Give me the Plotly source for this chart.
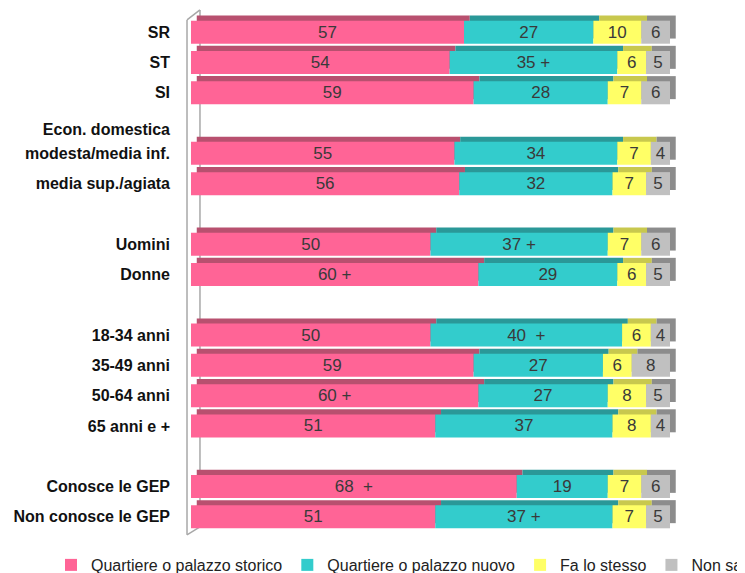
import plotly.graph_objects as go

# Righe dall'alto in basso (None = riga vuota tra i gruppi)
rows = ["SR", "ST", "SI", None, "modesta/media inf.", "media sup./agiata", None,
        "Uomini", "Donne", None, "18-34 anni", "35-49 anni", "50-64 anni",
        "65 anni e +", None, "Conosce le GEP", "Non conosce le GEP"]

series_names = ["Quartiere o palazzo storico", "Quartiere o palazzo nuovo",
                "Fa lo stesso", "Non sa"]

storico = [57, 54, 59, 55, 56, 50, 60, 50, 59, 60, 51, 68, 51]
nuovo = [27, 35, 28, 34, 32, 37, 29, 40, 27, 27, 37, 19, 37]
stesso = [10, 6, 7, 7, 7, 7, 6, 6, 6, 8, 8, 7, 7]
non_sa = [6, 5, 6, 4, 5, 6, 5, 4, 8, 5, 4, 6, 5]

storico_txt = ["57", "54", "59", "55", "56", "50", "60 +", "50", "59", "60 +", "51", "68  +", "51"]
nuovo_txt = ["27", "35 +", "28", "34", "32", "37 +", "29", "40  +", "27", "27", "37", "19", "37 +"]
stesso_txt = [str(v) for v in stesso]
non_sa_txt = [str(v) for v in non_sa]

front_colors = ["#FF6496", "#33CCCC", "#FFFF66", "#C0C0C0"]
top_colors = ["#B8506F", "#2A9898", "#C8C84E", "#8C8C8C"]

FONT = "Liberation Sans, Arial, sans-serif"

y_pos = [i for i, r in enumerate(rows) if r is not None]
labels = [r for r in rows if r is not None]

values = [storico, nuovo, stesso, non_sa]
texts = [storico_txt, nuovo_txt, stesso_txt, non_sa_txt]

# basi cumulative
bases = []
cum = [0] * len(storico)
for vals in values:
    bases.append(list(cum))
    cum = [c + v for c, v in zip(cum, vals)]

fig = go.Figure()

# finto effetto 3D: barre scure leggermente spostate dietro
dx = 1.2
for vals, base, col in zip(values, bases, top_colors):
    fig.add_trace(go.Bar(
        y=y_pos, x=vals, base=[b + dx for b in base], orientation="h",
        width=0.76, offset=-0.55, marker=dict(color=col, line=dict(width=0)),
        showlegend=False, hoverinfo="skip"))

for name, vals, base, col, txt in zip(series_names, values, bases, front_colors, texts):
    fig.add_trace(go.Bar(
        y=y_pos, x=vals, base=base, orientation="h", name=name,
        width=0.76, offset=-0.38, marker=dict(color=col, line=dict(width=0)),
        text=txt, textposition="inside", insidetextanchor="middle", textangle=0,
        textfont=dict(family=FONT, size=17, color="#3A3A3A")))

# pareti dell'asse (linee grigie)
wall = dict(color="#A8A8A8", width=1.5)
shapes = [
    dict(type="line", xref="paper", yref="paper", x0=-0.0072, x1=-0.0072, y0=0.006, y1=0.983, line=wall, layer="below"),
    dict(type="line", xref="paper", yref="paper", x0=0.0162, x1=0.0162, y0=0.021, y1=1.002, line=wall, layer="below"),
    dict(type="line", xref="paper", yref="paper", x0=-0.0072, x1=0.0162, y0=0.983, y1=1.002, line=wall, layer="below"),
    dict(type="line", xref="paper", yref="paper", x0=-0.0072, x1=0.0162, y0=0.006, y1=0.021, line=wall, layer="below"),
]

# la pagina ha 8px di margine: la parte destra/bassa esce dalla finestra
fig.update_layout(
    barmode="overlay",
    width=745, height=573,
    margin=dict(l=183, r=8, t=3, b=43, autoexpand=False),
    plot_bgcolor="white", paper_bgcolor="white",
    shapes=shapes,
    uniformtext=dict(minsize=17, mode="show"),
    xaxis=dict(range=[0, 115.66], showgrid=False, zeroline=False, showticklabels=False,
               showline=False, fixedrange=True),
    yaxis=dict(range=[16.7, -0.7], tickvals=y_pos + [3.2], ticktext=labels + ["Econ. domestica"],
               showgrid=False, zeroline=False, showline=False, ticks="",
               ticklabelstandoff=20, automargin=False,
               tickfont=dict(family=FONT, size=16, color="#111111", weight="bold")),
    legend=dict(orientation="h", x=-0.2527, xanchor="left", y=-0.0512, yanchor="middle",
                font=dict(family=FONT, size=16, color="#222222"),
                traceorder="normal", itemclick=False, itemwidth=30),
    showlegend=True,
)

fig.write_html("out.html")
